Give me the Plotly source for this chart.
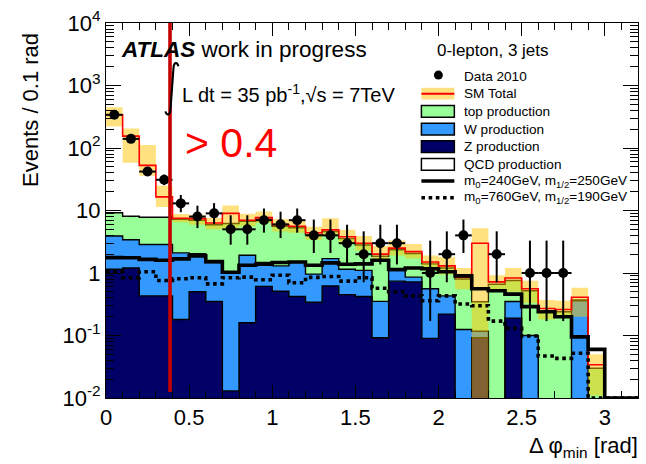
import plotly.graph_objects as go

# Delta phi_min histogram, 0-lepton 3-jet channel (bins of 0.1 rad)
bin_edges = [0.0, 0.1, 0.2, 0.3, 0.4, 0.5, 0.6, 0.7, 0.8, 0.9, 1.0, 1.1, 1.2, 1.3,
             1.4, 1.5, 1.6, 1.7, 1.8, 1.9, 2.0, 2.1, 2.2, 2.3, 2.4, 2.5, 2.6, 2.7,
             2.8, 2.9, 3.0, 3.1, 3.2]

# Stacked Standard Model backgrounds (events per bin)
z_production = [1.15, 1.2, 0.43, 0.43, 0.18, 0.5, 0.35, 0.013, 0.16, 0.61, 0.51, 0.42,
                0.34, 0.62, 0.45, 0.42, 0.092, 0.74, 0.72, 0.09, 0.22, 0, 0.092, 0,
                0.19, 0, 0, 0, 0, 0, 0, 0]
w_production = [2.75, 2.2, 2.43, 2.43, 1.92, 1.54, 1.12, 1.04, 1.76, 0.86, 0.79, 1.08,
                0.62, 1.08, 0.7, 0.68, 0.26, 0.35, 0.14, 0.47, 0.21, 0.125, 0.025, 0,
                0.16, 0.1, 0, 0, 0.36, 0, 0, 0]
top_production = [5.3, 4.7, 4.94, 4.94, 5.1, 4.96, 4.43, 5.15, 4.78, 5.83, 4.3, 3.8,
                  3.14, 2.9, 2.4, 1.7, 1.5, 1.26, 1.19, 0.84, 0.77, 0.675, 0.23, 0.66,
                  0.41, 0.42, 0.25, 0.24, 0.01, 0.03, 0, 0]
qcd_production = [330, 147, 45, 8.7, 0.3, 0.4, 0.4, 2.8, 0.3, 0.4, 0.3, 0.3, 0.3, 0.3,
                  0.25, 0.2, 0.15, 0.15, 0.15, 0.1, 0.1, 0.06, 2.65, 0.06, 0.07, 0.04,
                  0.02, 0.02, 0.04, 0.004, 0, 0]

# SM total uncertainty band
sm_band_low = [220, 58, 36, 11.4, 6.5, 5.9, 5.0, 5.2, 5.6, 6.3, 4.6, 4.4, 3.4, 3.9, 3.0,
               2.3, 1.5, 1.9, 1.7, 1.1, 0.95, 0.55, 0.004, 0.55, 0.5, 0.33, 0.18, 0.19,
               0.2, 0.011, 0, 0]
sm_band_high = [450, 206, 112, 25, 8.8, 8.4, 7.6, 12, 8.9, 9.6, 7.3, 6.8, 5.5, 7.5, 4.9,
                3.9, 2.7, 3.3, 2.9, 1.9, 1.8, 1.2, 5.2, 0.92, 1.2, 0.75, 0.37, 0.36,
                0.58, 0.05, 0, 0]

# mSUGRA signal points
signal_240_250 = [1.76, 1.75, 1.65, 1.6, 1.68, 1.88, 1.52, 1.03, 1.33, 1.38, 1.47, 1.5,
                  1.33, 1.45, 1.38, 1.4, 1.6, 1.14, 1.2, 1.17, 1.05, 0.9, 0.56, 0.52,
                  0.46, 0.29, 0.24, 0.2, 0.095, 0.06, 0, 0]
signal_760_190 = [1.05, 0.84, 1.05, 0.76, 0.81, 0.84, 0.67, 0.84, 0.86, 0.78, 0.92, 0.7,
                  0.85, 0.88, 0.74, 0.84, 0.57, 0.5, 0.43, 0.36, 0.43, 0.32, 0.3, 0.17,
                  0.13, 0.098, 0.047, 0.043, 0.052, 0, 0, 0]

# Data 2010 with asymmetric Poisson intervals
data_counts = [340, 140, 42, 31, 13, 8, 9, 5, 5, 7, 6, 7, 4, 4, 3, 2, 3, 3, 0, 1, 2, 4,
               0, 2, 0, 1, 1, 1, 0, 0, 0, 0]
data_err_low = [18.4, 11.8, 6.46, 5.54, 3.6, 2.77, 2.94, 2.16, 2.16, 2.58, 2.38, 2.58,
                1.91, 1.91, 1.63, 1.29, 1.63, 1.63, 0, 0.83, 1.29, 1.91, 0, 1.29, 0,
                0.83, 0.83, 0.83, 0, 0, 0, 0]
data_err_high = [19.5, 12.9, 7.52, 6.62, 4.7, 3.94, 4.11, 3.38, 3.38, 3.77, 3.58, 3.77,
                 3.16, 3.16, 2.92, 2.64, 2.92, 2.92, 0, 2.3, 2.64, 3.16, 0, 2.64, 0,
                 2.3, 2.3, 2.3, 0, 0, 0, 0]

cut_value = 0.385

FONT = "Liberation Sans, Arial, Helvetica, sans-serif"
HIDDEN = 0.004      # below the visible y range, used for empty bins
ON_AXIS = 0.01      # lower edge of the y range

# plot-area geometry in pixels (for placing text and legend)
W, H = 646, 464
L, R, T, B = 106, 639, 16, 398


def px(x):
    return (x - L) / (R - L)


def py(y):
    return (B - y) / (B - T)


def step_y(vals, floor):
    y = [v if v > 0 else floor for v in vals]
    return y + [y[-1]]


def cumulate(*parts):
    return [sum(p[i] for p in parts) for i in range(len(parts[0]))]


lvl_z = cumulate(z_production)
lvl_w = cumulate(z_production, w_production)
lvl_top = cumulate(z_production, w_production, top_production)
lvl_sm = cumulate(z_production, w_production, top_production, qcd_production)

fig = go.Figure()


def hist_line(vals, floor, **kw):
    fig.add_trace(go.Scatter(x=bin_edges, y=step_y(vals, floor), mode="lines",
                             line_shape="hv", showlegend=False, hoverinfo="skip", **kw))


# filled stack
hist_line([0] * 32, HIDDEN, line=dict(width=0))
hist_line(lvl_z, HIDDEN, line=dict(width=0), fill="tonexty", fillcolor="#000066")
hist_line(lvl_w, HIDDEN, line=dict(width=0), fill="tonexty", fillcolor="#3399ff")
hist_line(lvl_top, HIDDEN, line=dict(width=0), fill="tonexty", fillcolor="#99ff99")
hist_line(lvl_sm, HIDDEN, line=dict(width=0), fill="tonexty", fillcolor="#ffffff")

# stack outlines
for lvl in (lvl_z, lvl_w, lvl_top):
    hist_line(lvl, HIDDEN, line=dict(color="black", width=1.4))

# SM uncertainty band
hist_line(sm_band_low, HIDDEN, line=dict(width=0))
hist_line(sm_band_high, HIDDEN, line=dict(width=0), fill="tonexty",
          fillcolor="rgba(255,195,0,0.5)")

# SM total
hist_line(lvl_sm, HIDDEN, line=dict(color="#ff0000", width=1.6))

# signal points
hist_line(signal_240_250, ON_AXIS, line=dict(color="black", width=3.6))
hist_line(signal_760_190, ON_AXIS, line=dict(color="black", width=3.6, dash="dot"))

# data
centers = [(bin_edges[i] + bin_edges[i + 1]) / 2 for i in range(32)]
keep = [i for i in range(32) if data_counts[i] > 0]
fig.add_trace(go.Scatter(
    x=[centers[i] for i in keep], y=[data_counts[i] for i in keep], mode="markers",
    marker=dict(color="black", size=10),
    error_y=dict(type="data", symmetric=False, array=[data_err_high[i] for i in keep],
                 arrayminus=[data_err_low[i] for i in keep], color="black",
                 thickness=2, width=0),
    error_x=dict(type="data", array=[0.05] * len(keep), color="black", thickness=2,
                 width=0),
    showlegend=False, hoverinfo="skip"))

# cut line
fig.add_trace(go.Scatter(x=[cut_value, cut_value], y=[0.0125, 10000], mode="lines",
                         line=dict(color="#c40000", width=3.6), showlegend=False,
                         hoverinfo="skip"))

y_minor = [m * 10 ** e for e in range(-2, 4) for m in range(2, 10)]

fig.update_layout(
    width=W, height=H, margin=dict(l=L, r=W - R, t=T, b=H - B),
    paper_bgcolor="white", plot_bgcolor="white", showlegend=False,
    font=dict(family=FONT, color="black"),
    xaxis=dict(range=[0, 3.2], tickmode="array",
               tickvals=[0, 0.5, 1, 1.5, 2, 2.5, 3],
               ticktext=["0", "0.5", "1", "1.5", "2", "2.5", "3"],
               ticks="inside", ticklen=13, tickwidth=1, tickcolor="black",
               showline=True, linecolor="black", linewidth=1, mirror="ticks",
               showgrid=False, zeroline=False,
               tickfont=dict(family=FONT, size=22, color="black"),
               minor=dict(tickmode="linear", tick0=0, dtick=0.1, ticks="inside",
                          ticklen=7, tickcolor="black", tickwidth=1, showgrid=False)),
    yaxis=dict(type="log", range=[-2, 4], tickmode="array",
               tickvals=[0.01, 0.1, 1, 10, 100, 1000, 10000],
               ticktext=["10<sup>-2</sup>", "10<sup>-1</sup>", "1", "10",
                         "10<sup>2</sup>", "10<sup>3</sup>", "10<sup>4</sup>"],
               ticks="inside", ticklen=15, tickwidth=1, tickcolor="black",
               showline=True, linecolor="black", linewidth=1, mirror="ticks",
               showgrid=False, zeroline=False,
               tickfont=dict(family=FONT, size=22, color="black"),
               minor=dict(tickmode="array", tickvals=y_minor, ticks="inside",
                          ticklen=8, tickcolor="black", tickwidth=1, showgrid=False)),
)

ann = []


def text(x, y, s, size, color="black", xanchor="left", yanchor="middle", angle=0):
    ann.append(dict(x=px(x), y=py(y), xref="paper", yref="paper", text=s,
                    showarrow=False, xanchor=xanchor, yanchor=yanchor, textangle=angle,
                    font=dict(family=FONT, size=size, color=color)))


text(119, 43, "<b><i>ATLAS</i></b> work in progress", 22.5)
text(180, 88, "L dt = 35 pb<sup>-1</sup>,\u221as = 7TeV", 20)
text(183, 138, "&gt; 0.4", 41, color="#ff0000")
text(436, 44, "0-lepton, 3 jets", 17)
text(641, 448, "\u0394 \u03c6<sub>min</sub> [rad]", 22, xanchor="right")
text(31, 24, "Events / 0.1 rad", 22, xanchor="center", yanchor="top", angle=-90)

legend_rows = ["Data 2010", "SM Total", "top production", "W production",
               "Z production", "QCD production",
               "m<sub>0</sub>=240GeV, m<sub>1/2</sub>=250GeV",
               "m<sub>0</sub>=760GeV, m<sub>1/2</sub>=190GeV"]
row_y = [70, 88, 106, 124, 142, 160, 177, 194]
for s, y in zip(legend_rows, row_y):
    text(463, y, s, 13.6)

shapes = []


def pth(points):
    """SVG path in paper coordinates from pixel-space commands."""
    out = []
    for p in points:
        if isinstance(p, str):
            out.append(p)
        else:
            out.append(f"{px(p[0]):.5f},{py(p[1]):.5f}")
    return " ".join(out)


# integral sign of the luminosity label
shapes.append(dict(type="path", xref="paper", yref="paper",
                   path=pth(["M", (178.5, 60), "C", (177.5, 55.5), (174, 55.5), (173.6, 62),
                             "L", (170.6, 104), "C", (170.2, 110.5), (166.5, 110.5),
                             (165.6, 106)]),
                   line=dict(color="black", width=2.1)))

x0, x1 = px(422), px(455)
# data marker
shapes.append(dict(type="circle", xref="paper", yref="paper", x0=px(434.5), x1=px(443.5),
                   y0=py(73.5), y1=py(64.5), fillcolor="black", line=dict(width=0)))
# SM total: band with red line
shapes.append(dict(type="rect", xref="paper", yref="paper", x0=x0, x1=x1, y0=py(94),
                   y1=py(82), fillcolor="rgba(255,195,0,0.5)", line=dict(width=0)))
shapes.append(dict(type="line", xref="paper", yref="paper", x0=x0, x1=x1, y0=py(88),
                   y1=py(88), line=dict(color="#ff0000", width=2)))
for yc, col in zip(row_y[2:6], ["#99ff99", "#3399ff", "#000066", "#ffffff"]):
    shapes.append(dict(type="rect", xref="paper", yref="paper", x0=x0, x1=x1,
                       y0=py(yc + 6), y1=py(yc - 6), fillcolor=col,
                       line=dict(color="black", width=1.5)))
shapes.append(dict(type="line", xref="paper", yref="paper", x0=x0, x1=x1, y0=py(177),
                   y1=py(177), line=dict(color="black", width=3.6)))
shapes.append(dict(type="line", xref="paper", yref="paper", x0=x0, x1=x1, y0=py(194),
                   y1=py(194), line=dict(color="black", width=3.6, dash="dot")))

fig.update_layout(annotations=ann, shapes=shapes)
fig.write_html("out.html")
